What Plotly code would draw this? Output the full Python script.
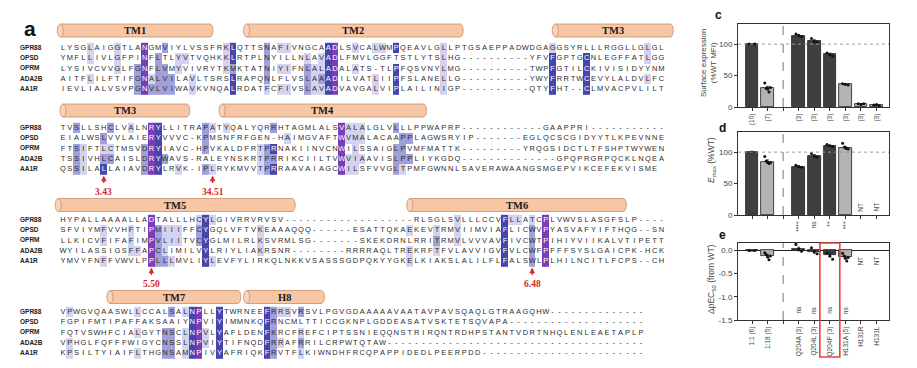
import plotly.graph_objects as go

W, H = 917, 368

# ---------------- data: panel a (sequence alignment) ----------------
NAMES = ["GPR88", "OPSD", "OPRM", "ADA2B", "AA1R"]

SEQ_1 = [
    "LYSGLAIGGTLANGMVIYLVSSFRKLQTTSNAFIVNGCAADLSVCALWMPQEAVLGLLPTGSAEPPADWDGAGGSYRLLLRGGLLGLGL",
    "YMFLLIVLGFPINFLTLYVTVQHKKLRTPLNYILLNLAVADLFMVLGGFTSTLYTSLHG----------YFVFGPTGCNLEGFFATLGG",
    "LYSIVCVVGLFGNFLVMYVIVRYTKMKTATNIYIFNLALADALATS-TLPFQSVNYLMG----------TWPFGTILCKIVISIDYYNM",
    "AITFLILFTIFGNALVILAVLTSRSLRAPQNLFLVSLAAADILVATLIIPFSLANELLG----------YWYFRRTWCEVYLALDVLFC",
    "IEVLIALVSVPGNVLVIWAVKVNQALRDATFCFIVSLAVADVAVGALVIPLAILINIGP----------QTYFHT--CLMVACPVLILT",
]
SEQ_2 = [
    "TVSLLSHCLVALNRYLLITRAPATYQALYQRRHTAGMLALSVALALGLVLLLPPWAPRP------------GAAPPRI-----------",
    "EIALWSLVVLAIERYVVVC-KPMSNFRFGEN-HAIMGVAFTWVMALACAAPPLAGWSRYIP-------EGLQCSCGIDYYTLKPEVNNE",
    "FTSIFTLCTMSVDRYIAVC-HPVKALDFRTPRNAKIINVCNWILSSAIGLPVMFMATTK---------YRQGSIDCTLTFSHPTWYWEN",
    "TSSIVHLCAISLDRYWAVS-RALEYNSKRTPRRIKCIILTVWVIAAVISLPPLIYKGDQ--------------GPQPRGRPQCKLNQEA",
    "QSSILALLAIAVDRYLRVK-IPLRYKMVVTPRRAAVAIAGCWILSFVVGLTPMFGWNNLSAVERAWAANGSMGEPVIKCEFEKVISME",
]
SEQ_3 = [
    "HYPALLAAAALLADTALLLHCYLGIVRRVRVSV-------------------RLSGLSVLLLCCVFLLATCPLVWVSLASGFSLP----",
    "SFVIYMFVVHFTIPMIIIFFCYGQLVFTVKEAAAQQQ------ESATTQKAEKEVTRMVIIMVIAFLICWVPYASVAFYIFTHQG--SN",
    "LLKICVFIFAFIMPVLIITVCYGLMILRLKSVRMLSG-------SKEKDRNLRRITRMVLVVVAVFIVCWTPIHIYVIIKALVTIPETT",
    "WYILASSIGSFFAPCLIMILVYLRIYLIAKRSNR--------RRRRAQLTREKRFTFVLAVVIGVFVLCWFPFFFSYSLGAICPK-HCK",
    "YMVYFNFFVWVLPPLLLMVLIYLEVFYLIRKQLNKKVSASSSGDPQKYYGKELKIAKSLALILFLFALSWLPLHILNCITLFCPS--CH",
]
SEQ_4 = [
    "VPWGVQAASWLLCCALSALNPLLYTWRNEEFRRSVRSVLPGVGDAAAAAVAATAVPAVSQAQLGTRAAGQHW",
    "FGPIFMTIPAFFAKSAAIYNPVIYIMMNKQFRNCMLTTICCGKNPLGDDEASATVSKTETSQVAPA",
    "FQTVSWHFCIALGYTNSCLNPVLYAFLDENFKRCFREFCIPTSSNIEQQNSTRIRQNTRDHPSTANTVDRTNHQLENLEAETAPLP",
    "VPHGLFQFFFWIGYCNSSLNPVIYTIFNQDFRRAFRRILCRPWTQTAW",
    "KPSILTYIAIFLTHGNSAMNPIVYAFRIQKFRVTFLKIWNDHFRCQPAPPIDEDLPEERPDD",
]

# shading: (column, level per row GPR88/OPSD/OPRM/ADA2B/AA1R); 1 light .. 3 dark blue, 4 purple
SHADE_1 = [(4, "11010"), (8, "11100"), (11, "00222"), (12, "44444"), (13, "00012"),
           (14, "02222"), (15, "20222"), (16, "00022"), (17, "01100"), (18, "01000"),
           (19, "00011"), (24, "11100"), (25, "33233"), (30, "22221"), (32, "10101"),
           (33, "10101"), (36, "01222"), (37, "00111"), (38, "01121"), (39, "33333"),
           (40, "44444"), (43, "10100"), (46, "10011"), (47, "10000"), (49, "30333"),
           (56, "11111"), (72, "13333"), (77, "03333"), (86, "11010")]
SHADE_2 = [(2, "20222"), (3, "00111"), (6, "02123"), (7, "20120"), (10, "10000"),
           (12, "00222"), (13, "44444"), (14, "33333"), (15, "00020"), (17, "00001"),
           (21, "22202"), (22, "10001"), (24, "10000"), (29, "00111"), (30, "00222"),
           (31, "20323"), (33, "01000"), (41, "44444"), (42, "11011"), (43, "11111"),
           (44, "11010"), (49, "20222"), (50, "02221"), (51, "02020")]
SHADE_3 = [(6, "01101"), (10, "01110"), (11, "00010"), (13, "44444"), (14, "02222"),
           (15, "01112"), (16, "01101"), (17, "01100"), (20, "12200"), (21, "33333"),
           (22, "10001"), (29, "01110"), (51, "01011"), (55, "01210"), (58, "11100"),
           (65, "33333"), (66, "10000"), (67, "10000"), (69, "12222"), (71, "44444")]
SHADE_4 = [(1, "10011"), (11, "10101"), (15, "00222"), (16, "20222"), (18, "10111"),
           (19, "33333"), (20, "44444"), (21, "00110"), (23, "33333"), (30, "33333"),
           (31, "22222"), (32, "10010"), (33, "10000"), (35, "20121")]

TM_NAME = ["TM1", "TM2", "TM3", "TM3", "TM4", "TM5", "TM6", "TM7", "H8"]
TM_BLOCK = [0, 0, 0, 1, 1, 2, 2, 3, 3]
TM_START = [-0.4, 27.0, 72.4, 0.0, 23.4, -0.7, 51.0, 6.9, 27.0]
TM_END = [21.6, 58.4, 89.3, 18.2, 53.0, 33.7, 82.4, 25.7, 38.0]

ARROW_BLOCK = [1, 1, 2, 2]
ARROW_COL = [6, 22, 13, 69]
ARROW_LABEL = ["3.43", "34.51", "5.50", "6.48"]

# ---------------- data: panels c, d, e ----------------
SLOTS = list(range(9))
BAR_SHADE = ["dark", "light", None, "dark", "dark", "dark", "light", "light", "light"]

C_VALS = [100, 30, None, 113, 105, 84, 36, 5, 3]
C_SEM = [0, 3, 0, 1.5, 2, 1.5, 0.8, 0.5, 0.5]
C_PTS = [[100, 100], [38, 30, 29, 24, 31], [], [116, 114, 112], [109, 104, 103],
         [86, 83, 81], [37, 36, 35], [5, 4, 5], [3, 4, 2]]
C_TICKS = ["(10)", "(7)", "", "(3)", "(3)", "(3)", "(3)", "(3)", "(3)"]

D_VALS = [100, 85, None, 77, 94, 110, 107, None, None]
D_SEM = [0, 2.5, 0, 1, 2, 1, 2, 0, 0]
D_PTS = [[100], [93, 86, 84, 82, 83], [], [79, 77, 76], [98, 94, 92],
         [112, 110, 109], [114, 108, 106, 105], [], []]
D_TICKS = ["", "", "", "****", "ns", "**", "***", "", ""]

E_VALS = [-0.01, -0.12, None, 0.03, -0.03, -0.10, -0.15, None, None]
E_SEM = [0, 0.03, 0, 0.04, 0.03, 0.04, 0.03, 0, 0]
E_PTS = [[0, 0], [-0.05, -0.09, -0.14, -0.2, -0.12], [], [0.13, 0.03, -0.02],
         [0.06, -0.03, -0.07], [-0.05, -0.12, -0.19], [-0.06, -0.12, -0.17, -0.23, -0.15], [], []]
E_TICKS = ["1:1 (6)", "1:18 (5)", "", "Q204A (3)", "Q204L (3)", "Q204P (3)",
           "H131A (5)", "H131R", "H131L"]
E_NS_SLOTS = [3, 4, 5, 6]
NT_SLOTS = [7, 8]
HIGHLIGHT_SLOT = 5

# ---------------- layout constants ----------------
PITCH = 6.8
X0 = 63
A_RIGHT = 690
LABEL_PX = 20
ROW_STEP = 10.4
BLOCK_ROW0 = [48, 128, 220, 312]
CYL_Y = [30.5, 110.5, 205, 297]
CYL_H = 13
BLOCK_N = [89, 89, 89, 86]
BLOCK_FILL = [" ", " ", " ", "-"]
LEVEL_COLORS = ["#d3d3ef", "#a0a0dc", "#4545ac", "#7b3db6"]
PEACH = "#f6c6a5"
PEACH_EDGE = "#c9906b"
RED = "#d42a2a"
DARK = "#3f3f3f"
LIGHT = "#b3b3b3"
SANS = "Liberation Sans, Arial, sans-serif"
SERIF = "Liberation Serif, Times New Roman, serif"

fig = go.Figure()

cs = []
for i, c in enumerate(LEVEL_COLORS):
    cs.append([i / 4, c])
    cs.append([(i + 1) / 4, c])

SEQS = [SEQ_1, SEQ_2, SEQ_3, SEQ_4]
SHADES = [SHADE_1, SHADE_2, SHADE_3, SHADE_4]
label_col = (LABEL_PX - X0) / PITCH

for b in range(4):
    N = BLOCK_N[b]
    rows = [s[:N].ljust(N, BLOCK_FILL[b]) for s in SEQS[b]]
    ys = [BLOCK_ROW0[b] + r * ROW_STEP for r in range(5)]
    z = [[None] * N for _ in range(5)]
    for col, lv in SHADES[b]:
        for r, ch in enumerate(lv):
            if ch != "0" and col < N:
                z[r][col] = int(ch)
    fig.add_trace(go.Heatmap(x=list(range(N)), y=ys, z=z, zmin=0.5, zmax=4.5,
                             colorscale=cs, showscale=False, hoverinfo="skip",
                             xgap=0, ygap=0, xaxis="x", yaxis="y"))
    tx, ty, tt, tc = [], [], [], []
    for r in range(5):
        for c, ch in enumerate(rows[r]):
            if ch == " ":
                continue
            tx.append(c)
            ty.append(ys[r])
            tt.append(ch)
            tc.append("#ffffff" if (z[r][c] or 0) >= 3 else "#2c2c2c")
    fig.add_trace(go.Scatter(x=tx, y=ty, text=tt, mode="text",
                             textfont=dict(family=SANS, size=7.5, color=tc),
                             hoverinfo="skip", showlegend=False, xaxis="x", yaxis="y"))
    fig.add_trace(go.Scatter(x=[label_col] * 5, y=ys,
                             text=["<b>%s</b>" % n for n in NAMES], mode="text",
                             textposition="middle right",
                             textfont=dict(family=SANS, size=6.5, color="#222222"),
                             hoverinfo="skip", showlegend=False, xaxis="x", yaxis="y"))

shapes = []
annotations = []
E_HALF = 0.45
for name, b, x0, x1 in zip(TM_NAME, TM_BLOCK, TM_START, TM_END):
    yc = CYL_Y[b]
    y0, y1 = yc - CYL_H / 2, yc + CYL_H / 2
    edge = dict(color=PEACH_EDGE, width=0.8)
    shapes.append(dict(type="circle", xref="x", yref="y", x0=x1 - E_HALF, x1=x1 + E_HALF,
                       y0=y0, y1=y1, fillcolor=PEACH, line=edge))
    shapes.append(dict(type="rect", xref="x", yref="y", x0=x0, x1=x1, y0=y0, y1=y1,
                       fillcolor=PEACH, line=dict(width=0)))
    shapes.append(dict(type="line", xref="x", yref="y", x0=x0, x1=x1, y0=y0, y1=y0, line=edge))
    shapes.append(dict(type="line", xref="x", yref="y", x0=x0, x1=x1, y0=y1, y1=y1, line=edge))
    shapes.append(dict(type="circle", xref="x", yref="y", x0=x0 - E_HALF, x1=x0 + E_HALF,
                       y0=y0, y1=y1, fillcolor="#f8d3b9", line=edge))
    annotations.append(dict(x=(x0 + x1) / 2, y=yc, xref="x", yref="y", showarrow=False,
                            xanchor="center", yanchor="middle",
                            text="<b>%s</b>" % name,
                            font=dict(family=SERIF, size=10.5, color="#1a1a1a")))

for b, col, lab in zip(ARROW_BLOCK, ARROW_COL, ARROW_LABEL):
    last = BLOCK_ROW0[b] + 4 * ROW_STEP
    tip = last + 6
    tail = tip + 9
    annotations.append(dict(x=col, y=tip, ax=col, ay=tail, xref="x", yref="y",
                            axref="x", ayref="y", text="", showarrow=True,
                            arrowhead=2, arrowsize=0.8, arrowwidth=1.4, arrowcolor=RED))
    annotations.append(dict(x=col, y=tail + 7.5, xref="x", yref="y", showarrow=False,
                            xanchor="center", yanchor="middle",
                            text="<b>%s</b>" % lab, font=dict(family=SERIF, size=9.5, color=RED)))


def pa(xpx, ypx, text, size, angle=0, bold=False, color="#444"):
    return dict(x=xpx / W, y=1 - ypx / H, xref="paper", yref="paper", showarrow=False,
                xanchor="center", yanchor="middle", textangle=angle,
                text=("<b>%s</b>" % text) if bold else text,
                font=dict(family=SANS, size=size, color=color))


annotations.append(pa(30, 28, "a", 21, bold=True, color="#111"))

# ---------------- panels c, d, e ----------------
PX_L, PX_R = 738, 889
PANELS = [  # (vals, sem, pts, ticks, top px, bottom px, yrange, tickvals, ticktext)
    (C_VALS, C_SEM, C_PTS, C_TICKS, 24, 107, [0, 132], [0, 50, 100], ["0", "50", "100"]),
    (D_VALS, D_SEM, D_PTS, D_TICKS, 132, 215, [0, 132], [0, 50, 100], ["0", "50", "100"]),
    (E_VALS, E_SEM, E_PTS, E_TICKS, 243, 320, [-1.5, 0.16], [-1.5, -1.0, -0.5, 0.0],
     ["-1.5", "-1.0", "-0.5", "0.0"]),
]
bar_colors = [DARK if s == "dark" else LIGHT for s in BAR_SHADE]
layout_axes = {}
for i, (vals, sem, pts, ticks, top, bot, yr, tv, tt) in enumerate(PANELS):
    k = i + 2
    xa, ya = "x%d" % k, "y%d" % k
    fig.add_trace(go.Bar(x=SLOTS, y=vals, width=0.8,
                         marker=dict(color=bar_colors, line=dict(color="#1e1e1e", width=0.8)),
                         error_y=dict(type="data", array=sem, color="#1e1e1e", thickness=0.8, width=1.5),
                         hoverinfo="skip", showlegend=False, xaxis=xa, yaxis=ya))
    px, py = [], []
    for s, group in zip(SLOTS, pts):
        n = len(group)
        for j, v in enumerate(group):
            off = 0 if n == 1 else -0.18 + 0.36 * j / (n - 1)
            px.append(s + off)
            py.append(v)
    fig.add_trace(go.Scatter(x=px, y=py, mode="markers",
                             marker=dict(size=3, color="#111111"),
                             hoverinfo="skip", showlegend=False, xaxis=xa, yaxis=ya))
    layout_axes["xaxis%d" % k] = dict(
        domain=[PX_L / W, PX_R / W], range=[-0.9, 8.8], anchor=ya,
        tickmode="array", tickvals=SLOTS, ticktext=ticks, tickangle=-90,
        ticks="outside", ticklen=3, tickwidth=0.8, tickcolor="#333",
        showline=True, linecolor="#333", linewidth=1, mirror=True,
        showgrid=False, zeroline=False, automargin=False,
        tickfont=dict(family=SANS, size=6.5, color="#444"))
    layout_axes["yaxis%d" % k] = dict(
        domain=[1 - bot / H, 1 - top / H], range=yr, anchor=xa,
        tickmode="array", tickvals=tv, ticktext=tt,
        ticks="outside", ticklen=3, tickwidth=0.8, tickcolor="#333",
        showline=True, linecolor="#333", linewidth=1, mirror=True,
        showgrid=False, automargin=False,
        zeroline=(i == 2), zerolinecolor="#222", zerolinewidth=1,
        tickfont=dict(family=SANS, size=8, color="#444"))
    shapes.append(dict(type="line", xref=xa, yref="%s domain" % ya, x0=2, x1=2, y0=0, y1=1,
                       line=dict(color="#777", width=1, dash="dash")))
    if i < 2:
        shapes.append(dict(type="line", xref="%s domain" % xa, yref=ya, x0=0, x1=1, y0=100, y1=100,
                           line=dict(color="#999", width=1, dash="dot")))

for s in NT_SLOTS:
    annotations.append(dict(x=s, y=13, xref="x3", yref="y3", showarrow=False, text="NT",
                            xanchor="center", yanchor="middle",
                            textangle=-90, font=dict(family=SANS, size=6.5, color="#444")))
    annotations.append(dict(x=s, y=-0.22, xref="x4", yref="y4", showarrow=False, text="NT",
                            xanchor="center", yanchor="middle",
                            textangle=-90, font=dict(family=SANS, size=6.5, color="#444")))
for s in E_NS_SLOTS:
    annotations.append(dict(x=s, y=-1.28, xref="x4", yref="y4", showarrow=False, text="ns",
                            xanchor="center", yanchor="middle",
                            textangle=-90, font=dict(family=SANS, size=6.5, color="#444")))

shapes.append(dict(type="rect", xref="x4", yref="paper", x0=HIGHLIGHT_SLOT - 0.64,
                   x1=HIGHLIGHT_SLOT + 0.64, y0=1 - 357 / H, y1=1 - 243 / H,
                   line=dict(color="#e8403a", width=1.6), fillcolor="rgba(0,0,0,0)"))

annotations += [
    pa(708, 63, "Surface expression<br>(%WT MFI)", 8, angle=-90),
    pa(712, 160, "<i>E</i><sub>max</sub> (%WT)", 8.5, angle=-90),
    pa(711, 279, "ΔpEC<sub>50</sub> (from WT)", 8.5, angle=-90),
    pa(718, 15, "c", 12, bold=True, color="#111"),
    pa(722, 128, "d", 12, bold=True, color="#111"),
    pa(722, 235, "e", 12, bold=True, color="#111"),
]

fig.update_layout(
    template="none",
    width=W, height=H,
    margin=dict(l=0, r=0, t=0, b=0),
    paper_bgcolor="white", plot_bgcolor="white",
    showlegend=False,
    bargap=0,
    xaxis=dict(domain=[0, A_RIGHT / W], range=[-X0 / PITCH, (A_RIGHT - X0) / PITCH],
               visible=False, automargin=False),
    yaxis=dict(domain=[0, 1], range=[H, 0], visible=False, automargin=False),
    shapes=shapes,
    annotations=annotations,
    **layout_axes,
)

fig.write_html("out.html")
